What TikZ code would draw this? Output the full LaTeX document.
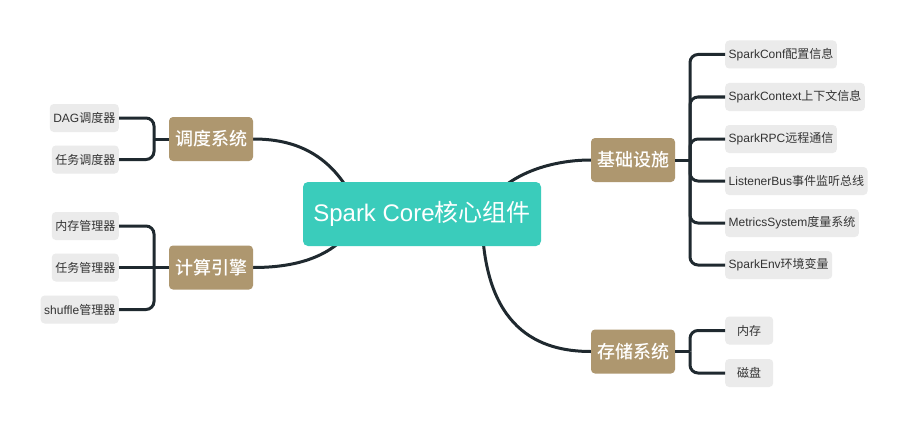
\documentclass[tikz,border=0pt]{standalone}
\usepackage{fontspec}
\setmainfont{Liberation Sans}
\newfontfamily\cjk[BoldFont={Noto Sans CJK SC Medium}]{Noto Sans CJK SC}
\newcommand{\zhtext}[1]{{\cjk #1}}
\usetikzlibrary{backgrounds}
\definecolor{coregreen}{HTML}{3ACCBB}
\definecolor{topictan}{HTML}{AE976F}
\definecolor{leafgray}{HTML}{EBEBEB}
\definecolor{linkdark}{HTML}{1F292F}
\definecolor{leaftext}{HTML}{333333}

\begin{document}
\begin{tikzpicture}[x=1pt,y=-1pt,
    root/.style={rounded corners=5pt,fill=coregreen,text=white,minimum width=238pt,minimum height=64pt,inner sep=0pt,font=\fontsize{24}{28}\selectfont},
    topic/.style={rounded corners=4pt,fill=topictan,text=white,minimum width=84pt,minimum height=44pt,inner sep=0pt,font=\fontsize{18}{21}\selectfont\cjk\bfseries},
    leaf/.style={rounded corners=4pt,fill=leafgray,text=leaftext,minimum height=28pt,inner xsep=3.5pt,inner ysep=0pt,font=\fontsize{12}{14}\selectfont},
    link/.style={draw=linkdark,line width=3pt},
    bracket/.style={link,rounded corners=8pt}]
      \useasboundingbox (0,0) rectangle (908,428);
      % Nodo central
      \node[root] (core) at (422,214) {Spark Core\zhtext{核心组件}};
      % Ramas
      \node[topic] (ddxt) at (211,139)   {调度系统};
      \node[topic] (jsyq) at (211,267.5) {计算引擎};
      \node[topic] (jcss) at (633,160)   {基础设施};
      \node[topic] (ccxt) at (633,351.5) {存储系统};
      % Hojas izquierda
      \node[leaf,anchor=east] (dag)  at (119,118)   {DAG\zhtext{调度器}};
      \node[leaf,anchor=east] (rwdd) at (119,159.5) {\zhtext{任务调度器}};
      \node[leaf,anchor=east] (ncgl) at (119,226)   {\zhtext{内存管理器}};
      \node[leaf,anchor=east] (rwgl) at (119,267.5) {\zhtext{任务管理器}};
      \node[leaf,anchor=east] (shgl) at (119,309.5) {shuffle\zhtext{管理器}};
      % Hojas derecha
      \node[leaf,anchor=west] (conf) at (725,54.5) {SparkConf\zhtext{配置信息}};
      \node[leaf,anchor=west] (ctx)  at (725,97)   {SparkContext\zhtext{上下文信息}};
      \node[leaf,anchor=west] (rpc)  at (725,139)  {SparkRPC\zhtext{远程通信}};
      \node[leaf,anchor=west] (bus)  at (725,181)  {ListenerBus\zhtext{事件监听总线}};
      \node[leaf,anchor=west] (mtr)  at (725,223)  {MetricsSystem\zhtext{度量系统}};
      \node[leaf,anchor=west] (env)  at (725,265)  {SparkEnv\zhtext{环境变量}};
      \node[leaf,anchor=west,minimum width=48pt] (nc) at (725,330.5) {\zhtext{内存}};
      \node[leaf,anchor=west,minimum width=48pt] (cp) at (725,373)   {\zhtext{磁盘}};
      % Puntos de union
      \coordinate (jl1) at (154,139);
      \coordinate (jl2) at (154,267.5);
      \coordinate (jr1) at (690,160);
      \coordinate (jr2) at (690,351.5);
      % Curvas desde el nodo central
      \begin{scope}[on background layer]
        \fill[white] (0,0) rectangle (908,428);
        \draw[link] ([xshift=-62pt]core.center) .. controls (335,150) and (290,139) .. (ddxt.east);
        \draw[link] ([xshift=-62pt]core.center) .. controls (340,260) and (290,267.5) .. (jsyq.east);
        \draw[link] ([xshift=60pt]core.center) .. controls (500,175) and (550,160) .. (jcss.west);
        \draw[link] ([xshift=60pt]core.center) .. controls (482,330) and (540,351.5) .. (ccxt.west);
      \end{scope}
      % Llaves
      \draw[link] (ddxt.west) -- (jl1);
      \draw[bracket] (jl1) |- (dag.east);
      \draw[bracket] (jl1) |- (rwdd.east);
      \draw[link] (jsyq.west) -- (jl2);
      \draw[bracket] (jl2) |- (ncgl.east);
      \draw[link] (jl2) -- (rwgl.east);
      \draw[bracket] (jl2) |- (shgl.east);
      \draw[link] (jcss.east) -- (jr1);
      \draw[bracket] (jr1) |- (conf.west);
      \draw[bracket] (jr1) |- (ctx.west);
      \draw[bracket] (jr1) |- (rpc.west);
      \draw[bracket] (jr1) |- (bus.west);
      \draw[bracket] (jr1) |- (mtr.west);
      \draw[bracket] (jr1) |- (env.west);
      \draw[link] (ccxt.east) -- (jr2);
      \draw[bracket] (jr2) |- (nc.west);
      \draw[bracket] (jr2) |- (cp.west);
    \end{tikzpicture}
\end{document}
